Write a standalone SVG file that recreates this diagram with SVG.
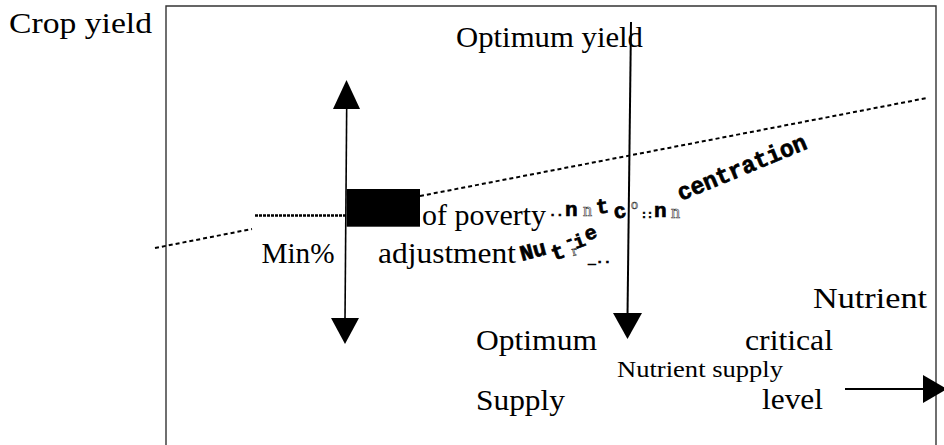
<svg xmlns="http://www.w3.org/2000/svg" width="944" height="445" viewBox="0 0 944 445">
<style>
.t{font-family:"Liberation Serif","Times New Roman",serif;fill:#000}
.m{font-family:"Liberation Mono","Courier New",monospace;font-weight:bold;fill:#000;stroke:#000;stroke-width:0.7}
.l{font-family:"Liberation Serif","Times New Roman",serif;fill:#fff;stroke:#333;stroke-width:0.6}
.ln{stroke:#000;fill:none}
.ah{fill:#000}
</style>
<rect width="944" height="445" fill="#fff"/>
<g id="frame">
<path d="M166,445 V6 H936 V445" fill="none" stroke="#333" stroke-width="1.4"/>
</g>
<g id="connectors">
<line class="ln" x1="155" y1="248" x2="252" y2="229" stroke-width="2" stroke-dasharray="4,3"/>
<line class="ln" x1="420" y1="196" x2="927" y2="98" stroke-width="2" stroke-dasharray="4,3"/>
<line class="ln" x1="255" y1="215.5" x2="346" y2="215.5" stroke-width="2.5" stroke-dasharray="3,1"/>
<line class="ln" x1="346.7" y1="106" x2="345" y2="320" stroke-width="1.6"/>
<polygon class="ah" points="333,109 360,109 346.5,80"/>
<polygon class="ah" points="331,318 359,318 345,344"/>
<line class="ln" x1="631" y1="22" x2="627.5" y2="316" stroke-width="2"/>
<polygon class="ah" points="613,313 642,313 627.5,339"/>
<line class="ln" x1="845" y1="389" x2="925" y2="389" stroke-width="2"/>
<polygon class="ah" points="923,375 923,403 947,389"/>
</g>
<g id="block">
<rect x="346.7" y="189" width="73.3" height="37.7" fill="#000"/>
</g>
<g id="labels">
<text class="t" x="9" y="33" font-size="30" textLength="143" lengthAdjust="spacingAndGlyphs">Crop yield</text>
<text class="t" x="456" y="46.5" font-size="28.5" textLength="187" lengthAdjust="spacingAndGlyphs">Optimum yield</text>
<text class="t" x="422" y="225" font-size="29" textLength="124" lengthAdjust="spacingAndGlyphs">of poverty</text>
<text class="t" x="261.5" y="263" font-size="29" textLength="73" lengthAdjust="spacingAndGlyphs">Min%</text>
<text class="t" x="378" y="263" font-size="30" textLength="138" lengthAdjust="spacingAndGlyphs">adjustment</text>
<text class="t" x="813" y="308" font-size="30" textLength="114" lengthAdjust="spacingAndGlyphs">Nutrient</text>
<text class="t" x="476" y="350" font-size="30" textLength="121" lengthAdjust="spacingAndGlyphs">Optimum</text>
<text class="t" x="745" y="350" font-size="30" textLength="88" lengthAdjust="spacingAndGlyphs">critical</text>
<text class="t" x="617" y="377" font-size="24" textLength="166" lengthAdjust="spacingAndGlyphs">Nutrient supply</text>
<text class="t" x="476" y="410" font-size="30" textLength="89" lengthAdjust="spacingAndGlyphs">Supply</text>
<text class="t" x="762" y="409" font-size="30" textLength="61" lengthAdjust="spacingAndGlyphs">level</text>
</g>
<g id="curve-label">
<text class="m" font-size="22" transform="translate(522,261) rotate(-15)">Nu</text>
<text class="m" font-size="22" transform="translate(554,261) rotate(-20)">t</text>
<text class="l" font-size="15" transform="translate(573,256) rotate(-15)">r</text>
<text class="m" font-size="16" transform="translate(566,246) rotate(-20)">-</text>
<text class="m" font-size="19" transform="translate(576,249) rotate(-20)">i</text>
<text class="m" font-size="20" transform="translate(587,241) rotate(-20)">e</text>
<text class="m" font-size="13" transform="translate(588,263)">_..</text>
<text class="m" font-size="12" x="549" y="216">..</text>
<text class="m" font-size="21" x="565" y="216">n</text>
<text class="l" font-size="18" x="583" y="216">n</text>
<text class="m" font-size="21" transform="translate(597,214) rotate(-8)">t</text>
<text class="m" font-size="21" transform="translate(615,219) rotate(-12)">c</text>
<text class="l" font-size="14" x="631" y="209">o</text>
<text class="m" font-size="10" x="641" y="218">::</text>
<text class="m" font-size="21" x="654" y="217">n</text>
<text class="l" font-size="18" x="671" y="218">n</text>
<text class="m" font-size="24" transform="translate(681,201) rotate(-22.5)" textLength="138" lengthAdjust="spacingAndGlyphs">centration</text>
</g>
</svg>
